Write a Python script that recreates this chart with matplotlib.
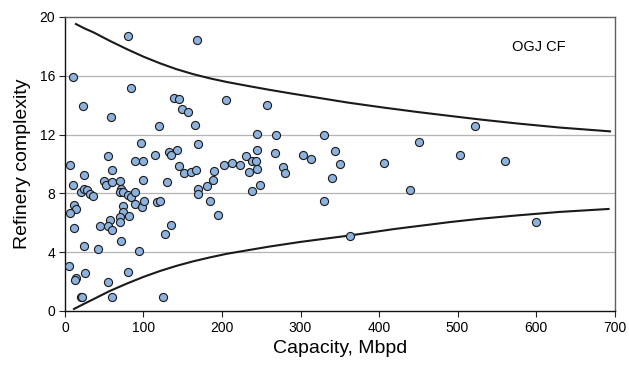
import matplotlib
matplotlib.use("Agg")
import matplotlib.pyplot as plt

plt.rcParams['font.family'] = ['Liberation Sans', 'DejaVu Sans']

# Refinery data: capacity (Mbpd) and complexity
capacity = [79.9, 168.5, 9.8, 84.5, 22.5, 204.7, 138.5, 144.8, 149.4, 156.7,
            58.6, 119.4, 165.6, 96.4, 169.4, 245.0, 245.0, 55.2, 114.6, 132.9,
            142.7, 135.0, 6.8, 24.6, 60.3, 89.6, 99.7, 144.8, 151.6, 160.1,
            166.5, 189.4, 202.5, 212.4, 222.5, 230.2, 238.2, 243.7, 234.8, 244.2,
            10.2, 20.0, 24.2, 27.6, 31.5, 35.7, 49.3, 52.6, 59.9, 69.7,
            71.7, 70.1, 73.5, 80.3, 83.7, 89.6, 99.7, 129.9, 73.5, 73.9,
            70.4, 69.7, 81.9, 88.8, 97.7, 101.0, 117.6, 120.6, 11.1, 13.6,
            6.0, 11.1, 44.6, 57.3, 55.2, 59.9, 135.0, 127.8, 71.7, 24.2,
            42.0, 93.9, 5.5, 25.1, 14.0, 12.4, 79.9, 55.2, 20.0, 21.7,
            59.5, 125.2, 184.7, 195.3, 169.8, 169.8, 180.5, 188.9, 237.8, 248.4,
            256.9, 268.8, 330.3, 451.3, 267.5, 303.6, 313.8, 344.3, 406.8, 278.1,
            279.9, 349.9, 339.7, 439.9, 330.3, 363.1, 521.9, 502.8, 560.9, 600.0]
complexity = [18.68, 18.43, 15.93, 15.15, 13.95, 14.38, 14.52, 14.40, 13.72, 13.54,
              13.22, 12.58, 12.65, 11.42, 11.33, 12.01, 10.92, 10.53, 10.58, 10.83,
              10.97, 10.60, 9.92, 9.22, 9.58, 10.17, 10.17, 9.85, 9.42, 9.44,
              9.62, 9.49, 9.90, 10.05, 9.90, 10.51, 10.19, 10.17, 9.47, 9.69,
              8.55, 8.08, 8.31, 8.26, 7.99, 7.85, 8.81, 8.58, 8.76, 8.87,
              8.33, 8.12, 8.12, 7.90, 7.76, 8.12, 8.89, 8.78, 7.17, 6.71,
              6.37, 6.05, 6.44, 7.26, 7.08, 7.51, 7.42, 7.46, 7.24, 6.94,
              6.64, 5.62, 5.75, 6.21, 5.75, 5.48, 5.85, 5.24, 4.76, 4.39,
              4.25, 4.05, 3.07, 2.61, 2.23, 2.10, 2.68, 1.98, 0.98, 0.96,
              0.98, 0.98, 7.46, 6.51, 8.31, 7.99, 8.53, 8.94, 8.14, 8.60,
              13.99, 11.97, 11.95, 11.52, 10.76, 10.58, 10.36, 10.85, 10.10, 9.81,
              9.40, 9.97, 9.06, 8.21, 7.46, 5.07, 12.56, 10.58, 10.17, 6.05]

# Envelope curves
upper_x = [14.0, 25.0, 36.1, 57.0, 78.6, 100.0, 121.0, 142.0, 163.4, 185.0, 206.0,
           236.0, 260.0, 290.0, 320.6, 360.0, 405.5, 450.0, 490.4, 530.0, 575.4,
           630.0, 694.3]
upper_y = [19.52, 19.22, 18.96, 18.38, 17.82, 17.30, 16.85, 16.45, 16.11, 15.82, 15.58,
           15.28, 15.05, 14.78, 14.52, 14.18, 13.84, 13.53, 13.27, 13.02, 12.76,
           12.48, 12.22]
lower_x = [11.5, 24.0, 36.1, 57.0, 78.6, 100.0, 121.0, 142.0, 163.4, 185.0, 206.0,
           235.7, 260.0, 300.0, 363.1, 420.0, 490.4, 530.0, 575.4, 630.0, 692.4]
lower_y = [0.14, 0.48, 0.80, 1.36, 1.86, 2.32, 2.72, 3.07, 3.38, 3.65, 3.89,
           4.16, 4.38, 4.70, 5.14, 5.58, 6.05, 6.28, 6.50, 6.74, 6.94]

x_ticks = [0, 100, 200, 300, 400, 500, 600, 700]
y_ticks = [0, 4, 8, 12, 16, 20]

fig = plt.figure(figsize=(6.29, 3.67), dpi=100)
ax = fig.add_axes([0.1033, 0.1526, 0.8737, 0.8011])

for yv in y_ticks[1:-1]:
    ax.axhline(yv, color='#b4b4b4', linewidth=0.9, zorder=0)

ax.plot(upper_x, upper_y, color='#1a1a1a', linewidth=1.5, zorder=2)
ax.plot(lower_x, lower_y, color='#1a1a1a', linewidth=1.5, zorder=2)

ax.scatter(capacity, complexity, s=34, facecolor='#8eb2de', edgecolor='#1a1a1a',
           linewidth=0.8, zorder=3)

ax.set_xlim(0, 700)
ax.set_ylim(0, 20)
ax.set_xticks(x_ticks)
ax.set_yticks(y_ticks)
ax.tick_params(axis='both', direction='out', length=4, width=0.8, labelsize=10,
               color='#222222', pad=3)

for side in ['left', 'bottom']:
    ax.spines[side].set_color('#111111')
    ax.spines[side].set_linewidth(1.0)
for side in ['top', 'right']:
    ax.spines[side].set_color('#606060')
    ax.spines[side].set_linewidth(1.0)

ax.set_xlabel('Capacity, Mbpd', fontsize=14, labelpad=4)
ax.set_ylabel('Refinery complexity', fontsize=14, labelpad=6)

ax.text(570, 17.95, 'OGJ CF', fontsize=10.5, va='center', ha='left')

fig.savefig('out.png', dpi=100)
